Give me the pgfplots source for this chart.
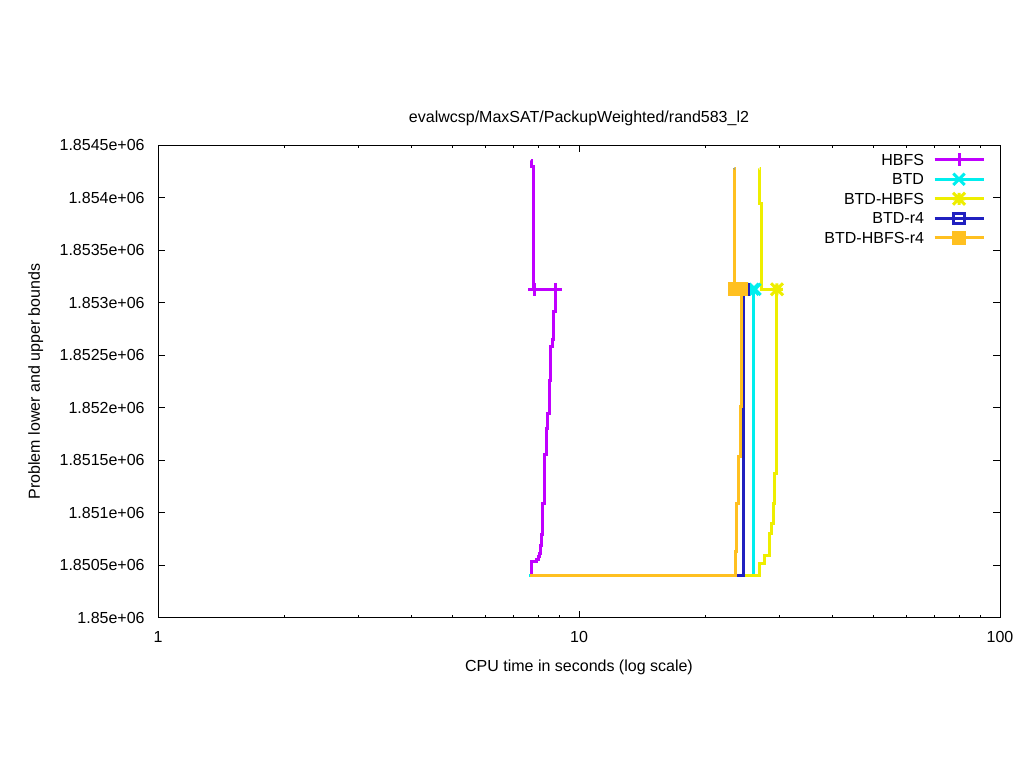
\documentclass[border=0pt]{standalone}
\usepackage{pgfplots}
\pgfplotsset{compat=1.18}
\usepackage{fontspec}
\setmainfont{Liberation Sans}
\definecolor{cPurple}{HTML}{C000FF}
\definecolor{cCyan}{HTML}{00EEEE}
\definecolor{cYellow}{HTML}{EEEE00}
\definecolor{cBlue}{HTML}{2020C0}
\definecolor{cOrange}{HTML}{FFC020}
\pgfdeclareplotmark{gpstar}{%
  \pgfpathmoveto{\pgfqpoint{-\pgfplotmarksize}{0pt}}\pgfpathlineto{\pgfqpoint{\pgfplotmarksize}{0pt}}%
  \pgfpathmoveto{\pgfqpoint{0pt}{-\pgfplotmarksize}}\pgfpathlineto{\pgfqpoint{0pt}{\pgfplotmarksize}}%
  \pgfpathmoveto{\pgfqpoint{-\pgfplotmarksize}{-\pgfplotmarksize}}\pgfpathlineto{\pgfqpoint{\pgfplotmarksize}{\pgfplotmarksize}}%
  \pgfpathmoveto{\pgfqpoint{-\pgfplotmarksize}{\pgfplotmarksize}}\pgfpathlineto{\pgfqpoint{\pgfplotmarksize}{-\pgfplotmarksize}}%
  \pgfusepathqstroke}
\begin{document}
\fontsize{8}{9.6}\selectfont
\begin{tikzpicture}
\begin{axis}[
  scale only axis, width=421pt, height=236.5pt,
  xmode=log, xmin=1, xmax=100,
  ymin=1850000, ymax=1854500,
  xtick={1,10,100}, xticklabels={1,10,100},
  minor xtick={2,3,4,5,6,7,8,9,20,30,40,50,60,70,80,90},
  ytick={1850000,1850500,1851000,1851500,1852000,1852500,1853000,1853500,1854000,1854500},
  yticklabels={1.85e+06,1.8505e+06,1.851e+06,1.8515e+06,1.852e+06,1.8525e+06,1.853e+06,1.8535e+06,1.854e+06,1.8545e+06},
  scaled y ticks=false,
  /pgf/number format/assume math mode=true,
  tick align=inside, xtick pos=both, ytick pos=both,
  major tick length=3.5pt, minor tick length=1.75pt,
  every tick/.style={black, line width=0.5pt},
  axis line style={line width=0.5pt},
  tick label style={font=\fontsize{8}{9.6}\selectfont},
  yticklabel style={anchor=east, inner sep=0pt, xshift=-6.5pt},
  xticklabel style={anchor=base, inner sep=0pt, yshift=-12.5pt},
  title={evalwcsp/MaxSAT/PackupWeighted/rand583\_l2},
  title style={at={(0.5,1)}, anchor=base, yshift=5pt, inner sep=0pt, font=\fontsize{8}{9.6}\selectfont},
  xlabel={CPU time in seconds (log scale)},
  xlabel style={at={(0.5,0)}, anchor=base, yshift=-26.5pt, inner sep=0pt, font=\fontsize{8}{9.6}\selectfont},
  ylabel={Problem lower and upper bounds},
  ylabel style={at={(0,0.5)}, anchor=base, yshift=59pt, inner sep=0pt, font=\fontsize{8}{9.6}\selectfont},
  legend plot pos=right, legend cell align=right,
  legend style={at={(1,1)}, anchor=north east, xshift=-7.5pt, yshift=-4pt,
    draw=none, fill=none, inner sep=0pt, outer sep=0pt, row sep=0pt, column sep=4.5pt,
    font=\fontsize{8}{9.6}\selectfont,
    nodes={inner sep=0pt, text height=6pt, text depth=3.75pt}},
  legend image code/.code={%
    \draw[#1, mark=none] (0pt,1.5pt) -- (24.5pt,1.5pt);
    \draw[#1, only marks] plot coordinates {(12.25pt,1.5pt)};},
  every axis plot/.append style={line width=1.5pt},
]
% legend
\addlegendimage{cPurple, mark=+, mark size=3.25pt}
\addlegendentry{HBFS}
\addlegendimage{cCyan, mark=x, mark size=4pt}
\addlegendentry{BTD}
\addlegendimage{cYellow, mark=gpstar, mark size=3pt}
\addlegendentry{BTD-HBFS}
\addlegendimage{cBlue, mark=square, mark size=2.6pt}
\addlegendentry{BTD-r4}
\addlegendimage{cOrange, mark=square*, mark size=2.75pt}
\addlegendentry{BTD-HBFS-r4}

% HBFS
\addplot[cPurple, const plot, no marks, forget plot] coordinates {
(7.66,1850409) (7.73,1850533) (7.91,1850552) (8.02,1850583) (8.06,1850616)
(8.10,1850694) (8.14,1850790) (8.17,1850901) (8.21,1851091) (8.26,1851139)
(8.30,1851551) (8.35,1851757) (8.39,1851805) (8.44,1851947) (8.49,1852264)
(8.56,1852581) (8.63,1852645) (8.68,1852854) (8.72,1852914) (8.80,1853127)};
\addplot[cPurple, const plot, no marks, forget plot] coordinates {
(7.70,1854348) (7.73,1854291) (7.78,1853127) (8.80,1853127)};
\addplot[cPurple, only marks, mark=+, mark size=3.25pt, forget plot] coordinates {
(7.86,1853127) (8.80,1853127)};

% BTD
\addplot[cCyan, const plot, no marks, forget plot] coordinates {
(7.62,1850409) (25.90,1853127)};
\addplot[cCyan, const plot, no marks, forget plot] coordinates {
(23.43,1854272) (23.44,1853127) (26.18,1853127)};
\addplot[cCyan, only marks, mark=x, mark size=4pt, forget plot] coordinates {
(25.90,1853127) (26.18,1853127)};

% BTD-HBFS
\addplot[cYellow, const plot, no marks, forget plot] coordinates {
(7.66,1850409) (26.87,1850520) (27.61,1850599) (28.38,1850806) (28.69,1850901)
(28.90,1851091) (29.17,1851377) (29.42,1851725) (29.53,1853127)};
\addplot[cYellow, const plot, no marks, forget plot] coordinates {
(26.87,1854272) (26.88,1853948) (27.06,1853127) (29.53,1853127)};
\addplot[cYellow, only marks, mark=gpstar, mark size=3pt, forget plot] coordinates {
(29.53,1853127)};

% BTD-r4
\addplot[cBlue, const plot, no marks, forget plot] coordinates {
(7.66,1850409) (24.56,1853127)};
\addplot[cBlue, const plot, no marks, forget plot] coordinates {
(23.43,1854272) (23.44,1853127) (23.50,1853127)};
\addplot[cBlue, only marks, mark=square, mark size=2.6pt, forget plot] coordinates {
(23.50,1853127) (24.56,1853127)};

% BTD-HBFS-r4
\addplot[cOrange, const plot, no marks, forget plot] coordinates {
(7.66,1850409) (23.54,1850631) (23.67,1851091) (23.86,1851186) (23.99,1851535)
(24.15,1852010) (24.32,1853127)};
\addplot[cOrange, const plot, no marks, forget plot] coordinates {
(23.43,1854272) (23.44,1853127) (23.50,1853127)};
\addplot[cOrange, only marks, mark=square*, mark size=2.75pt, forget plot] coordinates {
(23.50,1853127) (24.32,1853127)};
\end{axis}
\pgfresetboundingbox
\path ([shift={(-79pt,-75pt)}]current axis.south west) rectangle ([shift={(12pt,72.5pt)}]current axis.north east);
\end{tikzpicture}
\end{document}
